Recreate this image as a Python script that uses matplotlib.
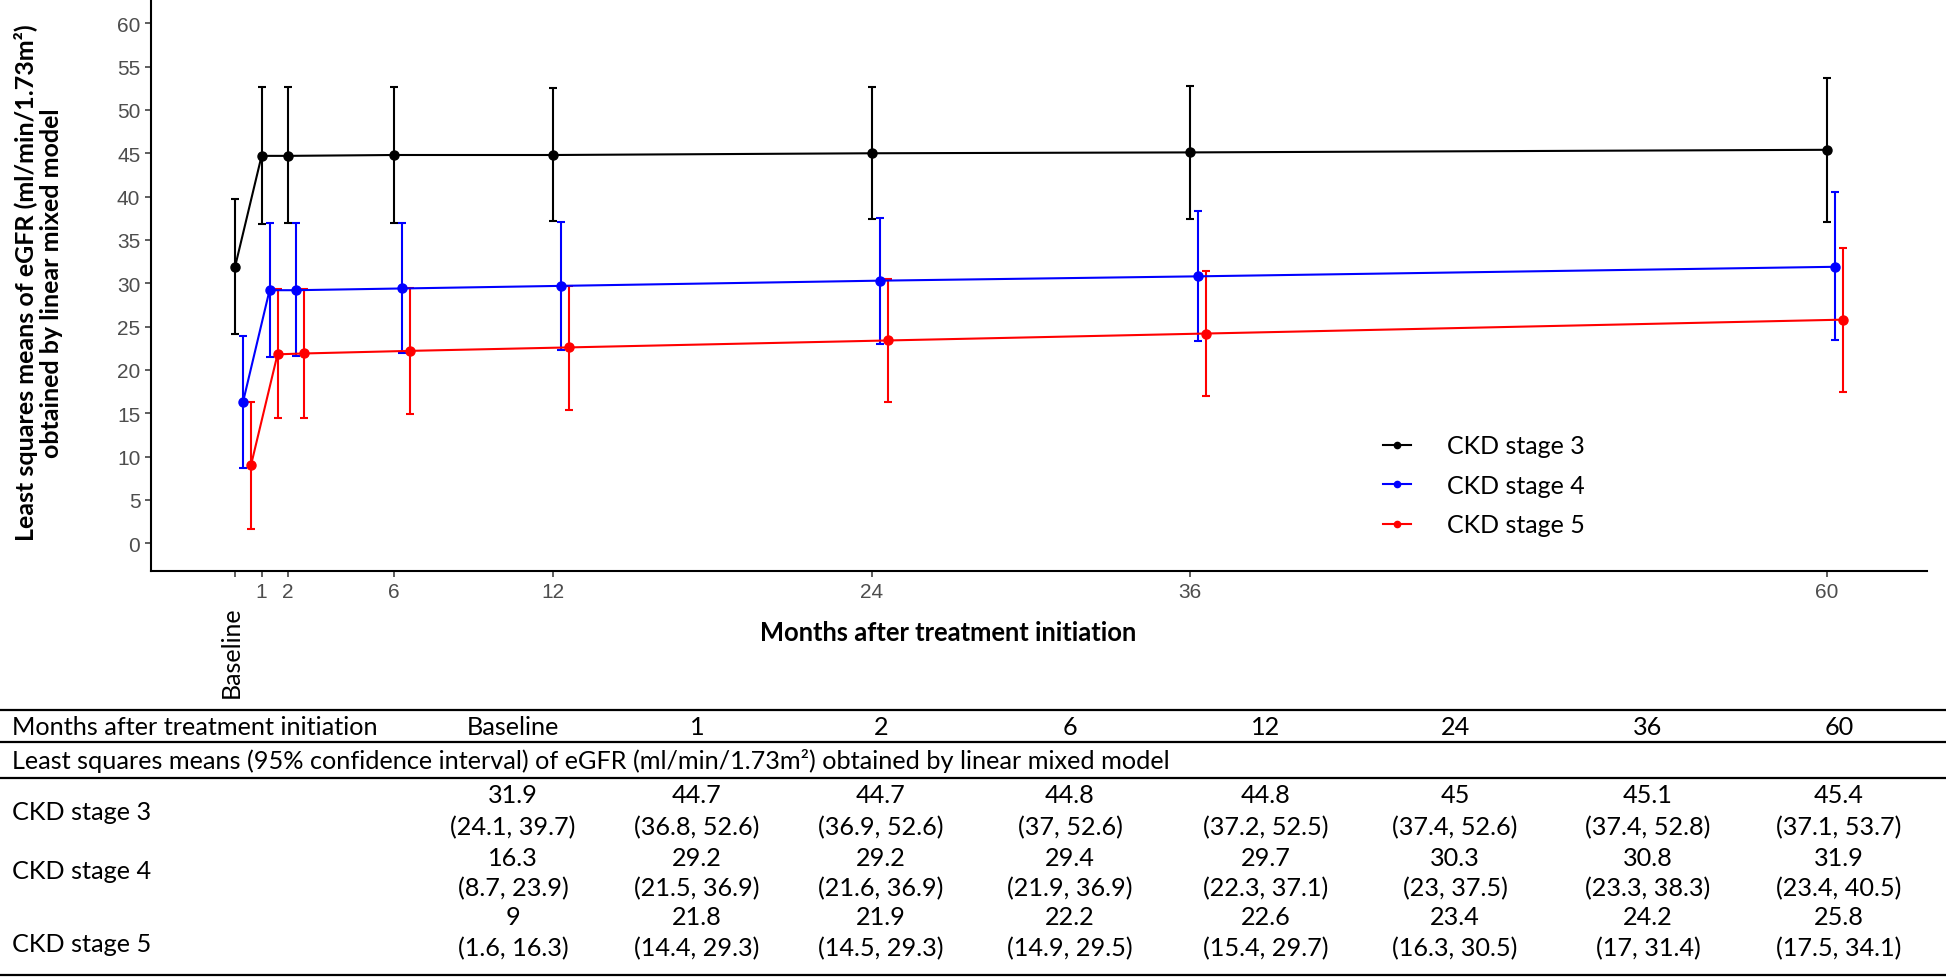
import numpy as np
import matplotlib
matplotlib.use('Agg')
import matplotlib.pyplot as plt
from matplotlib.lines import Line2D

# months after treatment initiation
months = [0, 1, 2, 6, 12, 24, 36, 60]
month_labels = ['Baseline', '1', '2', '6', '12', '24', '36', '60']

stages = ['CKD stage 3', 'CKD stage 4', 'CKD stage 5']
colors = ['black', 'blue', 'red']
dodge = [0.0, 0.3, 0.6]  # horizontal shift per stage

# least squares means and 95% CI
stage3_mean = [31.9, 44.7, 44.7, 44.8, 44.8, 45, 45.1, 45.4]
stage3_lo = [24.1, 36.8, 36.9, 37, 37.2, 37.4, 37.4, 37.1]
stage3_hi = [39.7, 52.6, 52.6, 52.6, 52.5, 52.6, 52.8, 53.7]

stage4_mean = [16.3, 29.2, 29.2, 29.4, 29.7, 30.3, 30.8, 31.9]
stage4_lo = [8.7, 21.5, 21.6, 21.9, 22.3, 23, 23.3, 23.4]
stage4_hi = [23.9, 36.9, 36.9, 36.9, 37.1, 37.5, 38.3, 40.5]

stage5_mean = [9, 21.8, 21.9, 22.2, 22.6, 23.4, 24.2, 25.8]
stage5_lo = [1.6, 14.4, 14.5, 14.9, 15.4, 16.3, 17, 17.5]
stage5_hi = [16.3, 29.3, 29.3, 29.5, 29.7, 30.5, 31.4, 34.1]

means = [stage3_mean, stage4_mean, stage5_mean]
lows = [stage3_lo, stage4_lo, stage5_lo]
highs = [stage3_hi, stage4_hi, stage5_hi]

plt.rcParams['font.family'] = ['Lato', 'DejaVu Sans']

W, H = 1946, 978
fig = plt.figure(figsize=(W / 100, H / 100), dpi=100)

# plot panel (pixel geometry of the reference)
ax_l, ax_r, ax_b, ax_t = 150.7, 1927, 572, 0
ax = fig.add_axes([ax_l / W, 1 - ax_b / H, (ax_r - ax_l) / W, (ax_b - ax_t) / H])

for i in range(3):
    x = np.array(months) + dodge[i]
    m = np.array(means[i])
    yerr = [m - np.array(lows[i]), np.array(highs[i]) - m]
    ax.errorbar(x, m, yerr=yerr, color=colors[i], marker='o', ms=6.5,
                lw=1.5, elinewidth=1.5, capsize=3.2, capthick=1.5)

ax.set_xlim(-3.18, 63.78)
ax.set_ylim(-3.2, 62.8)
ax.set_yticks(np.arange(0, 61, 5))
ax.set_xticks(months)
ax.set_xticklabels([''] + month_labels[1:])

for lab in ax.get_xticklabels() + ax.get_yticklabels():
    lab.set_fontfamily('Liberation Sans')
    lab.set_fontsize(15)
    lab.set_color('#4D4D4D')
ax.tick_params(axis='both', length=4.5, width=1.1, color='#333333')
ax.tick_params(axis='x', pad=3.5)
ax.tick_params(axis='y', pad=3)

for s in ['top', 'right']:
    ax.spines[s].set_visible(False)
for s in ['left', 'bottom']:
    ax.spines[s].set_linewidth(1.5)

# rotated baseline label
ax.text(months[0] - 0.15, -0.14, month_labels[0], transform=ax.get_xaxis_transform(),
        rotation=90, ha='center', va='center', fontsize=18)

fig.text(38.5 / W, 1 - 283 / H,
         'Least squares means of eGFR (ml/min/1.73m\u00b2)\nobtained by linear mixed model',
         rotation=90, ha='center', va='center', fontsize=18, fontweight='bold',
         linespacing=1.1)
fig.text(948 / W, 1 - 633 / H, 'Months after treatment initiation',
         ha='center', va='center', fontsize=18.4, fontweight='bold')

handles = [Line2D([], [], color=c, marker='o', ms=4.5, lw=1.5) for c in colors]
ax.legend(handles, stages, loc='upper left', bbox_to_anchor=(0.694, 0.239),
          frameon=False, fontsize=18, handlelength=1.1, handletextpad=1.45,
          labelspacing=0.66, borderpad=0, borderaxespad=0)

# table below the plot
col_x = [513, 697, 881, 1070, 1266, 1455, 1648, 1839]
tfs = 18.2
for y in [710.7, 743, 779, 976]:
    fig.add_artist(Line2D([0, 1], [1 - y / H, 1 - y / H], color='black', lw=1.6))

fig.text(12 / W, 1 - 728 / H, 'Months after treatment initiation',
         ha='left', va='center', fontsize=tfs)
for cx, lab in zip(col_x, month_labels):
    fig.text(cx / W, 1 - 728 / H, lab, ha='center', va='center', fontsize=tfs)
fig.text(12 / W, 1 - 761 / H,
         'Least squares means (95% confidence interval) of eGFR (ml/min/1.73m\u00b2) obtained by linear mixed model',
         ha='left', va='center', fontsize=tfs)

row_mean_y = [796, 858, 918]
row_ci_y = [828, 889, 949]
row_lab_y = [813, 872, 945]
for i in range(3):
    fig.text(12 / W, 1 - row_lab_y[i] / H, stages[i], ha='left', va='center', fontsize=tfs)
    for j, cx in enumerate(col_x):
        fig.text(cx / W, 1 - row_mean_y[i] / H, f'{means[i][j]:g}',
                 ha='center', va='center', fontsize=tfs)
        fig.text(cx / W, 1 - row_ci_y[i] / H, f'({lows[i][j]:g}, {highs[i][j]:g})',
                 ha='center', va='center', fontsize=tfs)

fig.savefig('out.png', dpi=100)
